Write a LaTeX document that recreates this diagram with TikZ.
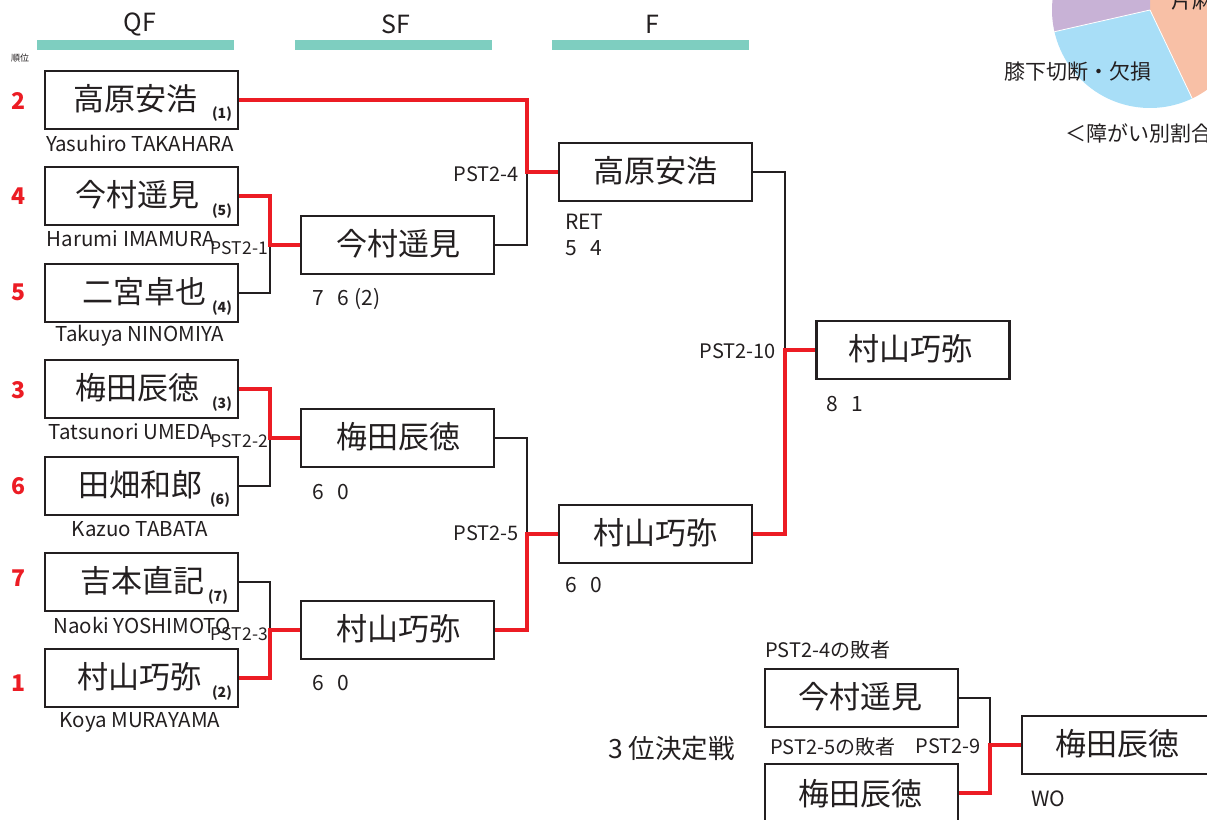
\documentclass[tikz,border=0pt]{standalone}
\usepackage{fontspec}
\setmainfont{Noto Sans CJK JP}
\definecolor{ink}{HTML}{231F20}
\definecolor{wred}{HTML}{EC1C24}
\definecolor{barteal}{HTML}{7ECEC0}
\definecolor{piepurple}{HTML}{C8B2D6}
\definecolor{pieblue}{HTML}{A8DEF7}
\definecolor{piesalmon}{HTML}{F8C0A6}
\tikzset{
  pbox/.style={draw=ink, line width=2.6pt, minimum width=193pt, minimum height=58pt, inner sep=0pt, fill=white},
  pname/.style={text=ink, font=\fontsize{31}{31}\selectfont, inner sep=0pt},
  seed/.style={text=ink, font=\fontsize{14}{14}\selectfont\bfseries, inner sep=0pt},
  ename/.style={text=ink, font=\fontsize{20.5}{20.5}\selectfont, inner sep=0pt},
  rank/.style={text=wred, font=\fontsize{23}{23}\selectfont\bfseries, inner sep=0pt},
  mlabel/.style={text=ink, font=\fontsize{20}{20}\selectfont, inner sep=0pt, anchor=east},
  slabel/.style={text=ink, font=\fontsize{17.5}{17.5}\selectfont, inner sep=0pt, anchor=east},
  score/.style={text=ink, font=\fontsize{21}{21}\selectfont, inner sep=0pt, anchor=west},
  tlabel/.style={text=ink, font=\fontsize{20}{20}\selectfont, inner sep=0pt, anchor=west},
  head/.style={text=ink, font=\fontsize{25}{25}\selectfont, inner sep=0pt},
  lose/.style={draw=ink, line width=2.2pt},
  win/.style={draw=wred, line width=4.6pt},
}
\begin{document}
\begin{tikzpicture}[x=1pt,y=-1pt]
\useasboundingbox (0,0) rectangle (1207,819);
% pie chart (partial)
\fill[piesalmon] (1150,10) -- ++(-90:98) arc[start angle=-90,end angle=64.5,radius=98] -- cycle;
\fill[pieblue] (1150,10) -- ++(64.5:98) arc[start angle=64.5,end angle=167.2,radius=98] -- cycle;
\fill[piepurple] (1150,10) -- ++(167.2:98) arc[start angle=167.2,end angle=270,radius=98] -- cycle;
\draw[white, line width=0.8pt] (1150,10) -- ++(64.5:98) (1150,10) -- ++(167.2:98);
\node[text=ink, font=\fontsize{21}{21}\selectfont, inner sep=0pt, anchor=west] (pieA) at (1171,1) {片麻痺};
\node[text=ink, font=\fontsize{21}{21}\selectfont, inner sep=0pt] (pieB) at (1078,72) {膝下切断・欠損};
\node[text=ink, font=\fontsize{21}{21}\selectfont, inner sep=0pt, anchor=west] (pieC) at (1065,133) {＜障がい別割合＞};
% headers
\node[head] (hqf) at (140,24) {QF};
\node[head] (hsf) at (396,24) {SF};
\node[head] (hf) at (652,24) {F};
\fill[barteal] (37,40) rectangle (234,50);
\fill[barteal] (295,40) rectangle (492,50);
\fill[barteal] (552,40) rectangle (749,50);
\node[text=ink, font=\fontsize{9}{9}\selectfont, inner sep=0pt] (jun) at (20,58) {順位};
% junction coordinates
\coordinate (j1) at (270,245);
\coordinate (j2) at (270,438);
\coordinate (j3) at (270,630);
\coordinate (j4) at (527,172);
\coordinate (j5) at (527,534);
\coordinate (j10) at (785,350);
\coordinate (j9) at (990,745);
% QF boxes
\node[pbox] (q1) at (141.5,100) {};
\node[pbox] (q2) at (141.5,196) {};
\node[pbox] (q3) at (141.5,293) {};
\node[pbox] (q4) at (141.5,389) {};
\node[pbox] (q5) at (141.5,486) {};
\node[pbox] (q6) at (141.5,582) {};
\node[pbox] (q7) at (141.5,678) {};
% SF boxes
\node[pbox] (s1) at (397.5,245) {};
\node[pbox] (s2) at (397.5,438) {};
\node[pbox] (s3) at (397.5,630) {};
% F boxes
\node[pbox] (f1) at (655.5,172) {};
\node[pbox] (f2) at (655.5,534) {};
% winner
\node[pbox] (w) at (913,350) {};
% third place boxes
\node[pbox] (t1) at (861.5,698) {};
\node[pbox] (t2) at (861.5,793) {};
\node[pbox] (t3) at (1118.5,745) {};
% connectors: losers first
\draw[lose] (q3.east) -| (j1);
\draw[lose] (q5.east) -| (j2);
\draw[lose] (q6.east) -| (j3);
\draw[lose] (s1.east) -| (j4);
\draw[lose] (s2.east) -| (j5);
\draw[lose] (f1.east) -| (j10);
\draw[lose] (t1.east) -| (j9);
% winners
\draw[win] (q2.east) -| (j1) -- (s1.west);
\draw[win] (q4.east) -| (j2) -- (s2.west);
\draw[win] (q7.east) -| (j3) -- (s3.west);
\draw[win] (q1.east) -| (j4) -- (f1.west);
\draw[win] (s3.east) -| (j5) -- (f2.west);
\draw[win] (f2.east) -| (j10) -- (w.west);
\draw[win] (t2.east) -| (j9) -- (t3.west);
% names in QF
\node[pname] (q1t) at (135,99) {高原安浩};
\node[pname] (q2t) at (137,195) {今村遥見};
\node[pname] (q3t) at (144,292) {二宮卓也};
\node[pname] (q4t) at (137,388) {梅田辰徳};
\node[pname] (q5t) at (140,485) {田畑和郎};
\node[pname] (q6t) at (142,581) {吉本直記};
\node[pname] (q7t) at (139,677) {村山巧弥};
% seeds
\node[seed] (q1s) at (222,114) {(1)};
\node[seed] (q2s) at (222,211) {(5)};
\node[seed] (q3s) at (222,308) {(4)};
\node[seed] (q4s) at (222,404) {(3)};
\node[seed] (q5s) at (220,500) {(6)};
\node[seed] (q6s) at (218,597) {(7)};
\node[seed] (q7s) at (222,693) {(2)};
% english names
\node[ename] (q1e) at (140,143) {Yasuhiro TAKAHARA};
\node[ename] (q2e) at (131,239) {Harumi IMAMURA};
\node[ename] (q3e) at (140,336) {Takuya NINOMIYA};
\node[ename] (q4e) at (131,432) {Tatsunori UMEDA};
\node[ename] (q5e) at (140,529) {Kazuo TABATA};
\node[ename] (q6e) at (142,625) {Naoki YOSHIMOTO};
\node[ename] (q7e) at (140,722) {Koya MURAYAMA};
% ranks
\node[rank] (r1) at (19,101) {2};
\node[rank] (r2) at (19,196) {4};
\node[rank] (r3) at (19,292) {5};
\node[rank] (r4) at (19,390) {3};
\node[rank] (r5) at (19,486) {6};
\node[rank] (r6) at (19,578) {7};
\node[rank] (r7) at (19,683) {1};
% names in later rounds
\node[pname] (s1t) at (398,244) {今村遥見};
\node[pname] (s2t) at (398,437) {梅田辰徳};
\node[pname] (s3t) at (398,629) {村山巧弥};
\node[pname] (f1t) at (655,171) {高原安浩};
\node[pname] (f2t) at (655,533) {村山巧弥};
\node[pname] (wt) at (910,349) {村山巧弥};
\node[pname] (t1t) at (860,697) {今村遥見};
\node[pname] (t2t) at (860,794) {梅田辰徳};
\node[pname] (t3t) at (1117,744) {梅田辰徳};
% match labels
\node[slabel] (m1) at (268,248) {PST2-1};
\node[slabel] (m2) at (268,441) {PST2-2};
\node[slabel] (m3) at (268,634) {PST2-3};
\node[mlabel] (m4) at (519,174) {PST2-4};
\node[mlabel] (m5) at (519,533) {PST2-5};
\node[mlabel] (m10) at (776,351) {PST2-10};
\node[mlabel] (m9) at (981,746) {PST2-9};
% scores
\node[score] (sc1) at (312,299) {7\ \ \ 6 (2)};
\node[score] (sc2) at (312,492) {6\ \ \ 0};
\node[score] (sc3) at (312,683) {6\ \ \ 0};
\node[score] (sc4) at (565,222) {RET};
\node[score] (sc5) at (565,248) {5\ \ \ 4};
\node[score] (sc6) at (565,585) {6\ \ \ 0};
\node[score] (sc7) at (826,404) {8\ \ \ 1};
\node[score] (sc8) at (1031,799) {WO};
% third place texts
\node[tlabel] (tl1) at (765,650) {PST2-4の敗者};
\node[tlabel] (tl2) at (770,747) {PST2-5の敗者};
\node[text=ink, font=\fontsize{26.5}{26.5}\selectfont, inner sep=0pt, anchor=west] (third) at (608,748) {3 位決定戦};
\end{tikzpicture}
\end{document}
